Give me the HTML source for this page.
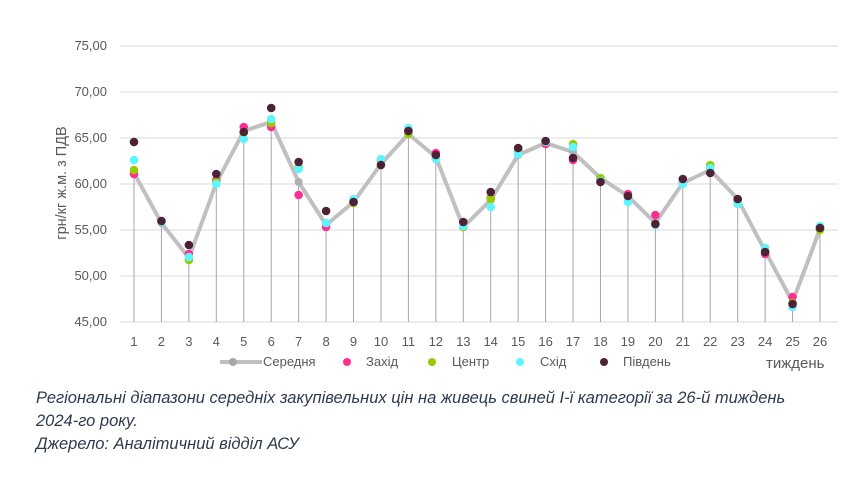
<!DOCTYPE html>
<html><head><meta charset="utf-8"><style>
body{margin:0;background:#fff;width:862px;height:478px;overflow:hidden}
svg{position:absolute;left:0;top:0}
text{font-family:"Liberation Sans",sans-serif}
.cap{position:absolute;left:36px;font:italic 16.5px "Liberation Sans",sans-serif;color:#2e3a4f;line-height:23px}
</style></head><body>
<svg id="s" width="862" height="478">
<g fill="#595959" font-size="13" text-anchor="end">
<text x="107" y="50">75,00</text><text x="107" y="96">70,00</text><text x="107" y="142">65,00</text>
<text x="107" y="188">60,00</text><text x="107" y="234">55,00</text><text x="107" y="280">50,00</text><text x="107" y="326">45,00</text>
</g>
<text transform="translate(66,183) rotate(-90)" fill="#595959" font-size="14.5" text-anchor="middle">грн/кг ж.м. з ПДВ</text>
<g id="xt" fill="#595959" font-size="13" text-anchor="middle">
<text x="134" y="346">1</text><text x="161.4" y="346">2</text><text x="188.9" y="346">3</text><text x="216.3" y="346">4</text><text x="243.8" y="346">5</text><text x="271.2" y="346">6</text><text x="298.6" y="346">7</text><text x="326.1" y="346">8</text><text x="353.5" y="346">9</text><text x="381" y="346">10</text><text x="408.4" y="346">11</text><text x="435.8" y="346">12</text><text x="463.3" y="346">13</text><text x="490.7" y="346">14</text><text x="518.2" y="346">15</text><text x="545.6" y="346">16</text><text x="573" y="346">17</text><text x="600.5" y="346">18</text><text x="627.9" y="346">19</text><text x="655.4" y="346">20</text><text x="682.8" y="346">21</text><text x="710.2" y="346">22</text><text x="737.7" y="346">23</text><text x="765.1" y="346">24</text><text x="792.6" y="346">25</text><text x="820" y="346">26</text>
</g>
<g font-size="13" fill="#595959">
<line x1="220" y1="362" x2="262" y2="362" stroke="#bfbfbf" stroke-width="4"/><circle cx="233" cy="362" r="4" fill="#a6a6a6"/>
<text x="263" y="366">Середня</text>
<circle cx="347" cy="362" r="4" fill="#ff2f92"/><text x="366" y="366">Захід</text>
<circle cx="432" cy="362" r="4" fill="#99cc00"/><text x="452" y="366">Центр</text>
<circle cx="520" cy="362" r="4" fill="#5ff5ff"/><text x="540" y="366">Схід</text>
<circle cx="604" cy="362" r="4" fill="#4d2136"/><text x="623" y="366">Південь</text>
<text x="766" y="368" font-size="15">тиждень</text>
</g>
</svg>
<div class="cap" style="top:387px">Регіональні діапазони середніх закупівельних цін на живець свиней І-ї категорії за 26-й тиждень<br>2024-го року.<br>Джерело: Аналітичний відділ АСУ</div>
<script>
const s=document.getElementById('s'),NS='http://www.w3.org/2000/svg';
function el(t,a,before){const e=document.createElementNS(NS,t);for(const k in a)e.setAttribute(k,a[k]);before?s.insertBefore(e,document.getElementById('xt')):s.appendChild(e);return e;}
for(const y of [46,92,138,184,230,276,322])el('line',{x1:120,x2:838,y1:y,y2:y,stroke:'#d9d9d9','stroke-width':1},1);
const X=w=>134+(w-1)*27.44;
const avg=[173,223,258,183,131,122,182,225,202,164,134,157,227,200,155,143,152,178,196,223,183,170,199,251,302,229];
const pink=[174,221,254,180,127,127,195,227,202,160,131,153,227,198,150,144,160,180,194,215,183,168,201,254,297,228];
const green=[170,222,260,182,133,123,167,223,203,160,134,157,227,199,150,142,144,178,197,224,183,165,201,251,303,230];
const cyan=[160,222,257,184,139,119,169,223,199,159,128,159,226,207,154,142,147,181,202,225,184,168,204,248,307,226];
const dark=[142,221,245,174,132,108,162,211,202,165,131,155,222,192,148,141,158,182,196,224,179,173,199,252,304,228];
avg.forEach((y,i)=>el('line',{x1:X(i+1),x2:X(i+1),y1:322,y2:y,stroke:'#a6a6a6','stroke-width':1}));
el('polyline',{points:avg.map((y,i)=>X(i+1)+','+y).join(' '),fill:'none',stroke:'#c0c0c0','stroke-width':4,'stroke-linejoin':'round'});
avg.forEach((y,i)=>el('circle',{cx:X(i+1),cy:y,r:4,fill:'#b0b0b0'}));
[[pink,'#ff2f92'],[green,'#99cc00'],[cyan,'#5ff5ff'],[dark,'#4d2136']].forEach(([d,c])=>d.forEach((y,i)=>el('circle',{cx:X(i+1),cy:y,r:4.3,fill:c})));
</script>
</body></html>
